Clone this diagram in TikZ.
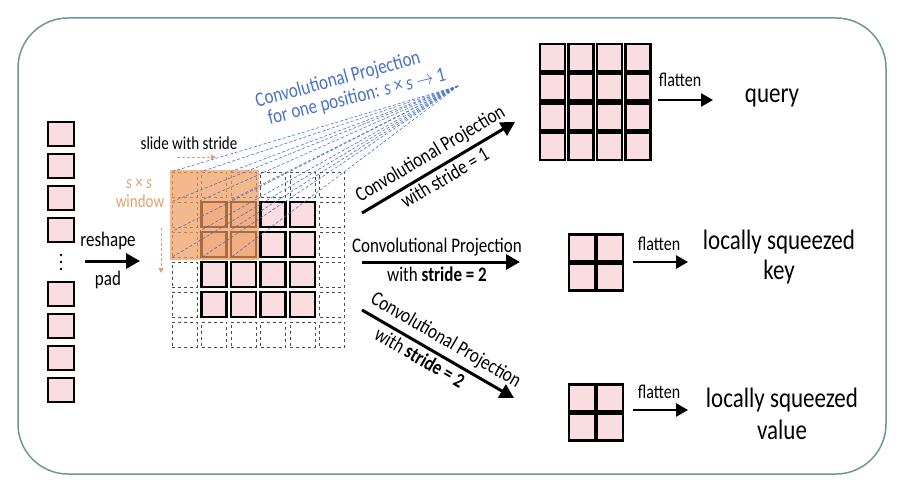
\documentclass[tikz,border=0pt]{standalone}
\usepackage{fontspec}
\setmainfont{Carlito}
\usetikzlibrary{arrows.meta}
\definecolor{cellpink}{HTML}{F9DDE0}
\definecolor{winorange}{HTML}{F09A5C}
\definecolor{wintext}{HTML}{E0A070}
\definecolor{projblue}{HTML}{4A72C4}
\definecolor{framegray}{HTML}{6E9898}
\newcommand{\tallt}[1]{\scalebox{1}[1.22]{#1}}
\tikzset{
 cell/.style={draw=black,line width=2.6pt,fill=cellpink,inner sep=0pt,minimum width=25pt,minimum height=25pt},
 padcell/.style={draw=black!70,dashed,line width=0.7pt,inner sep=0pt,minimum width=25pt,minimum height=25pt},
 tokcell/.style={cell,minimum width=26pt,minimum height=24pt},
 outcell/.style={cell,minimum width=25pt,minimum height=27pt},
 flow/.style={line width=3pt,-{Triangle[length=14pt,width=15pt]}},
 flatarrow/.style={line width=2.6pt,-{Triangle[length=12pt,width=13pt]}},
 txt/.style={font=\fontsize{17}{19}\selectfont,inner sep=3pt},
 smalltxt/.style={font=\fontsize{15}{17}\selectfont,inner sep=1pt},
 bigtxt/.style={font=\fontsize{23}{28}\selectfont,inner sep=0pt},
 slide/.style={wintext,densely dashed,line width=0.8pt,-{Triangle[length=5pt,width=5pt]}}
}
\begin{document}
\begin{tikzpicture}[x=1pt,y=-1pt]
 \useasboundingbox (0,0) rectangle (900,492);
 \draw[framegray,line width=1.5pt,rounded corners=50pt] (18,18) rectangle (886,474);

 \foreach \k/\y in {1/134,2/166,3/198,4/230,5/294,6/326,7/358,8/390}
  \node[tokcell] (tok\k) at (61,\y) {};
 \foreach \y in {255,262,269}
  \fill (61,\y) circle (1.3pt);

 \node[txt] (reshape) at (108,241) {\tallt{reshape}};
 \node[txt] (pad) at (108,280) {\tallt{pad}};
 \coordinate (rsA) at (85,261);
 \coordinate (rsB) at (140,261);
 \draw[flow] (rsA) -- (rsB);

 \foreach \i in {0,...,5}
  \foreach \j in {0,...,5}{
   \ifnum\i=0 \node[padcell] (g\i\j) at (184.5+29.5*\i,184.5+30*\j) {};
   \else\ifnum\i=5 \node[padcell] (g\i\j) at (184.5+29.5*\i,184.5+30*\j) {};
   \else\ifnum\j=0 \node[padcell] (g\i\j) at (184.5+29.5*\i,184.5+30*\j) {};
   \else\ifnum\j=5 \node[padcell] (g\i\j) at (184.5+29.5*\i,184.5+30*\j) {};
   \else \node[cell] (g\i\j) at (184.5+29.5*\i,184.5+30*\j) {};
   \fi\fi\fi\fi
  }
 \fill[winorange,opacity=0.7] (g00.north west) ++(-2,-2) rectangle ([shift={(2,2)}]g22.south east);

 \coordinate (apex) at (458,86);
 \foreach \i in {0,1,2}{
  \foreach \j in {0,1,2}
   \draw[projblue,densely dashed,line width=0.6pt] (apex) -- (g\i\j.north west);
  \draw[projblue,densely dashed,line width=0.6pt] (apex) -- (g\i2.south west);
 }
 \node[txt,projblue,rotate=15] (cpa) at (338,80) {\tallt{Convolutional Projection}};
 \node[txt,projblue,rotate=14] (cpb) at (357,97) {\tallt{for one position: \textit{s} × \textit{s} $\rightarrow$ 1}};

 \node[smalltxt] (slide) at (189,143) {\tallt{slide with stride}};
 \coordinate (slA) at (177,157);
 \coordinate (slB) at (216,157);
 \draw[slide] (slA) -- (slB);
 \node[smalltxt,wintext] (sxs) at (139,184) {\tallt{\textit{s} × \textit{s}}};
 \node[smalltxt,wintext] (win) at (140,201) {\tallt{window}};
 \coordinate (wdA) at (161,228);
 \coordinate (wdB) at (161,273);
 \draw[slide] (wdA) -- (wdB);

 \coordinate (upA) at (362,213);
 \coordinate (upB) at (515,122);
 \draw[flow] (upA) -- (upB)
  node[txt,midway,sloped,above,yshift=2pt] (upT) {\tallt{Convolutional Projection}}
  node[txt,midway,sloped,below,yshift=0pt] (upS) {\tallt{with stride = 1}};
 \coordinate (midA) at (362,262);
 \coordinate (midB) at (520,262);
 \draw[flow] (midA) -- (midB)
  node[txt,midway,above,xshift=-4pt,yshift=1pt] (midT) {\tallt{Convolutional Projection}}
  node[txt,midway,below,xshift=-4pt] (midS) {\tallt{with \textbf{stride = 2}}};
 \coordinate (dnA) at (362,310);
 \coordinate (dnB) at (514,398);
 \draw[flow] (dnA) -- (dnB)
  node[txt,midway,sloped,above,yshift=2pt] (dnT) {\tallt{Convolutional Projection}}
  node[txt,midway,sloped,below,yshift=0pt,xshift=-14pt] (dnS) {\tallt{with \textbf{stride = 2}}};

 \foreach \i in {0,...,3}
  \foreach \j in {0,...,3}
   \node[outcell] (q\i\j) at (552.5+28.4*\i,57.5+29.7*\j) {};
 \node[txt,font=\fontsize{16}{18}\selectfont] (qfl) at (680,80) {\tallt{flatten}};
 \coordinate (qA) at (658,100);
 \coordinate (qB) at (713,100);
 \draw[flatarrow] (qA) -- (qB);
 \node[bigtxt] (query) at (772,98) {\tallt{query}};

 \foreach \i in {0,1}
  \foreach \j in {0,1}{
   \node[cell,minimum width=26pt,minimum height=27pt] (k\i\j) at (582+28*\i,248+29*\j) {};
   \node[cell,minimum width=26pt,minimum height=27pt] (v\i\j) at (582+28*\i,398+29*\j) {};
  }
 \node[txt,font=\fontsize{16}{18}\selectfont] (kfl) at (659,244) {\tallt{flatten}};
 \coordinate (kA) at (633,262);
 \coordinate (kB) at (688,262);
 \draw[flatarrow] (kA) -- (kB);
 \node[bigtxt] (keyA) at (779,242) {\tallt{locally squeezed}};
 \node[bigtxt] (keyB) at (779,272) {\tallt{key}};

 \node[txt,font=\fontsize{16}{18}\selectfont] (vfl) at (659,392) {\tallt{flatten}};
 \coordinate (vA) at (633,410);
 \coordinate (vB) at (688,410);
 \draw[flatarrow] (vA) -- (vB);
 \node[bigtxt] (valueA) at (782,400) {\tallt{locally squeezed}};
 \node[bigtxt] (valueB) at (782,430) {\tallt{value}};
\end{tikzpicture}
\end{document}
